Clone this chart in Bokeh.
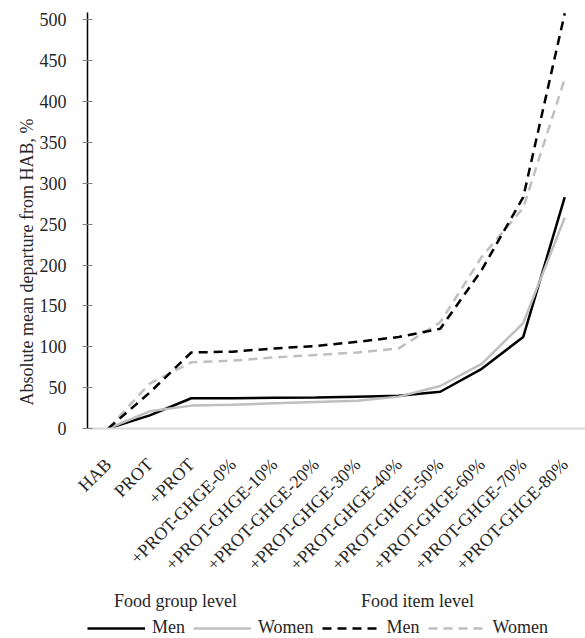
from math import pi
from bokeh.plotting import figure
from bokeh.layouts import column
from bokeh.models import (FactorRange, Range1d, SingleIntervalTicker, Legend,
                          LegendItem, Title, Label)
from bokeh.embed import file_html
from bokeh.resources import INLINE

categories = ["HAB", "PROT", "+PROT", "+PROT-GHGE-0%", "+PROT-GHGE-10%",
              "+PROT-GHGE-20%", "+PROT-GHGE-30%", "+PROT-GHGE-40%",
              "+PROT-GHGE-50%", "+PROT-GHGE-60%", "+PROT-GHGE-70%",
              "+PROT-GHGE-80%"]
men_food_group = [0, 16, 37, 37, 37.5, 38, 39, 40, 45, 73, 112, 283]
women_food_group = [0, 21, 28, 29, 31, 32.5, 34, 39, 52, 79, 129, 258]
men_food_item = [0, 44, 93, 94, 98, 101, 106, 112, 122, 194, 283, 508]
women_food_item = [0, 55, 81, 83, 87, 90, 93, 98, 130, 210, 270, 428]

y_ticks_interval = 50
y_axis_title = "Absolute mean departure from HAB, %"
group_titles = ["Food group level", "Food item level"]

FONT = "Liberation Serif"
FS = "18px"
BLACK = "#000000"
GRAY = "#bfbfbf"
TXT = "#262626"
DASH = "9 6"

p = figure(x_range=FactorRange(factors=categories, range_padding=0),
           y_range=Range1d(0, 509),
           width=585, height=584, output_backend="svg", toolbar_location=None,
           min_border_left=87, min_border_right=0, min_border_top=12,
           min_border_bottom=0, outline_line_color=None)
p.grid.visible = False

r1 = p.line(categories, men_food_group, line_color=BLACK, line_width=2.5)
r2 = p.line(categories, women_food_group, line_color=GRAY, line_width=2.5)
r3 = p.line(categories, women_food_item, line_color=GRAY, line_width=2.5,
            line_dash=DASH)
r4 = p.line(categories, men_food_item, line_color=BLACK, line_width=2.5,
            line_dash=DASH)

yax = p.yaxis[0]
yax.ticker = SingleIntervalTicker(interval=y_ticks_interval)
yax.axis_line_color = BLACK
yax.axis_line_width = 1.5
yax.major_tick_line_color = "#808080"
yax.major_tick_in = 5
yax.major_tick_out = 5
yax.minor_tick_line_color = None
yax.major_label_standoff = 16
yax.major_label_text_font = FONT
yax.major_label_text_font_size = FS
yax.major_label_text_color = TXT

xax = p.xaxis[0]
xax.axis_line_color = "#d9d9d9"
xax.axis_line_width = 2
xax.major_tick_line_color = None
xax.minor_tick_line_color = None
xax.major_label_orientation = pi / 4
xax.major_label_standoff = 27
xax.major_label_text_font = FONT
xax.major_label_text_font_size = FS
xax.major_label_text_color = TXT

p.add_layout(Title(text=y_axis_title, align="left", offset=23,
                   text_font=FONT, text_font_size=FS, text_color=TXT,
                   text_font_style="normal", standoff=0), "left")

# strip below the chart: group titles and legend (frame aligned with chart)
b = figure(x_range=Range1d(87, 585), y_range=Range1d(54, 0),
           width=585, height=54, output_backend="svg", toolbar_location=None,
           x_axis_location=None, y_axis_location=None,
           min_border=0, outline_line_color=None)
b.grid.visible = False

b.add_layout(Label(x=175, y=16, text=group_titles[0],
                   text_align="center", text_baseline="middle",
                   text_font=FONT, text_font_size=FS, text_color=TXT))
b.add_layout(Label(x=417, y=16, text=group_titles[1],
                   text_align="center", text_baseline="middle",
                   text_font=FONT, text_font_size=FS, text_color=TXT))

nan = float("nan")
l1 = b.line([nan], [nan], line_color=BLACK, line_width=2.5)
l2 = b.line([nan], [nan], line_color=GRAY, line_width=2.5)
l3 = b.line([nan], [nan], line_color=BLACK, line_width=2.5, line_dash=DASH)
l4 = b.line([nan], [nan], line_color=GRAY, line_width=2.5, line_dash=DASH)

legend = Legend(items=[LegendItem(label="Men", renderers=[l1]),
                       LegendItem(label="Women", renderers=[l2]),
                       LegendItem(label="Men", renderers=[l3]),
                       LegendItem(label="Women", renderers=[l4])],
                orientation="horizontal", location=(0, 0),
                glyph_width=58, glyph_height=20, label_standoff=7,
                spacing=8, padding=0, margin=0,
                border_line_color=None, background_fill_alpha=0,
                label_text_font=FONT, label_text_font_size=FS,
                label_text_color=TXT)
b.add_layout(legend)

layout = column(p, b, spacing=0)
open("out.html", "w").write(file_html(layout, INLINE))
